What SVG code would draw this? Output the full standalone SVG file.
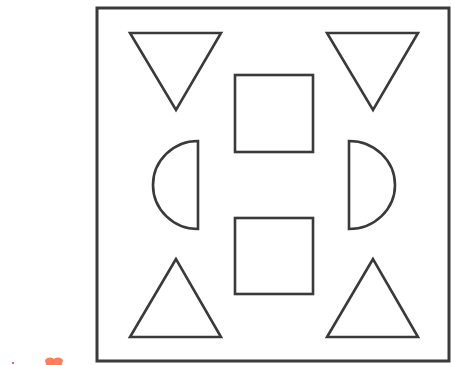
<svg xmlns="http://www.w3.org/2000/svg" width="451" height="365" viewBox="0 0 451 365">
<style>
.s{fill:#fff;stroke:#3a3a3a;stroke-width:2.6;stroke-linejoin:miter}
</style>
<rect width="451" height="365" fill="#fff"/>
<g id="frame"><rect class="s" x="97" y="8" width="352" height="353" style="stroke-width:3"/></g>
<g id="tri-tl"><polygon class="s" points="130,33 221,33 176,110"/></g>
<g id="tri-tr"><polygon class="s" points="327,33 418,33 373,110"/></g>
<g id="sq-top"><rect class="s" x="235" y="75" width="78" height="77"/></g>
<g id="half-left"><path class="s" d="M198,141 A45,44 0 0 0 198,229 Z"/></g>
<g id="half-right"><path class="s" d="M349,141 A46,44 0 0 1 349,229 Z"/></g>
<g id="sq-bottom"><rect class="s" x="235" y="218" width="78" height="76"/></g>
<g id="tri-bl"><polygon class="s" points="176,259 130,337 221,337"/></g>
<g id="tri-br"><polygon class="s" points="373,259 327,337 418,337"/></g>
<g id="marks">
<circle cx="13" cy="363" r="1" fill="#e83030"/>
<ellipse cx="50" cy="361" rx="5" ry="3.5" fill="#ff7f5c"/>
<ellipse cx="58" cy="361" rx="5" ry="3.5" fill="#ff7f5c"/>
<rect x="46" y="361" width="16" height="4" fill="#ff7f5c"/>
</g>
</svg>
